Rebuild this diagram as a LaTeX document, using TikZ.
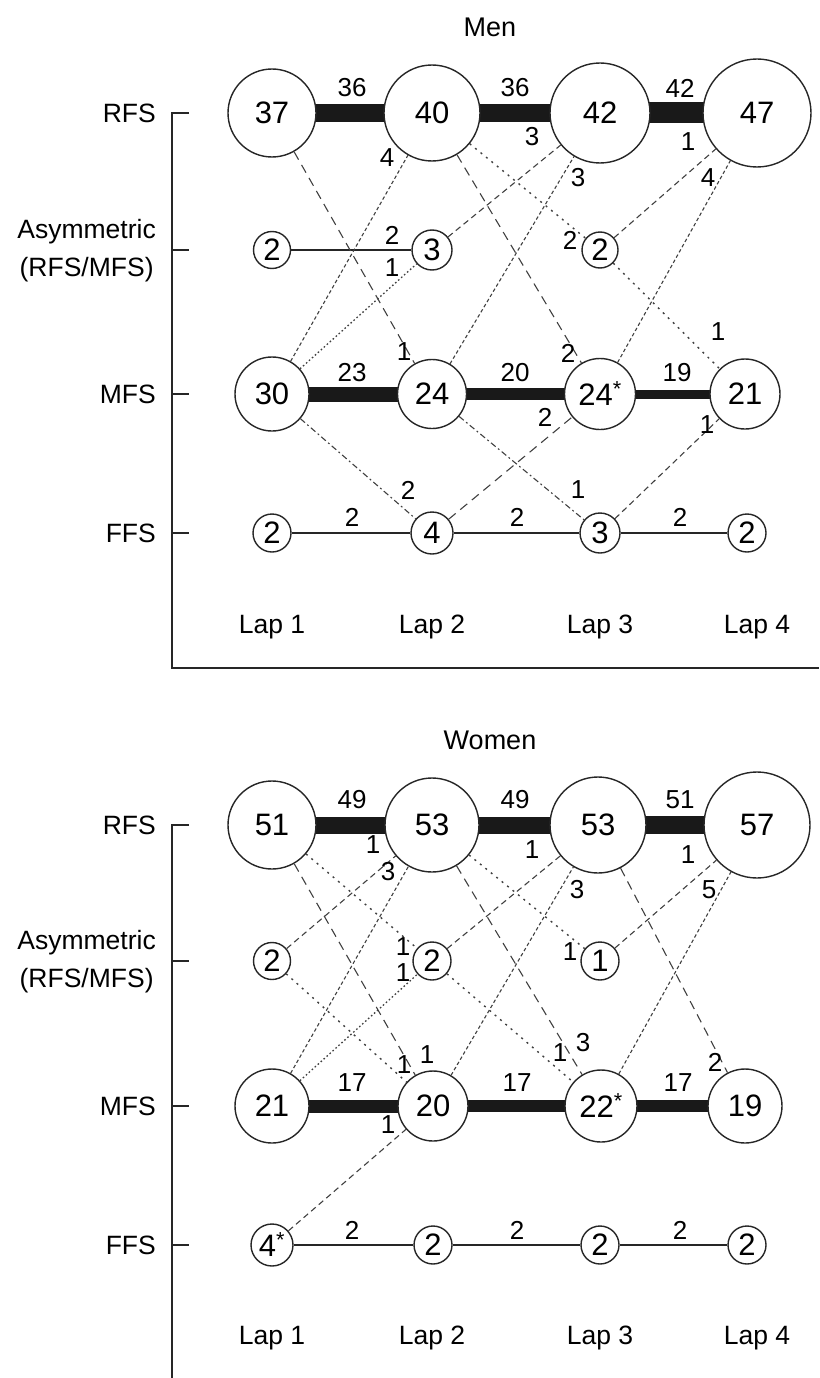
\documentclass[tikz,border=0pt]{standalone}
\usepackage{fontspec}
\setmainfont{Liberation Sans}
\usetikzlibrary{backgrounds}
\newcommand\FigNum{\fontsize{31}{33}\selectfont}
\newcommand\FigLab{\fontsize{26}{28}\selectfont}
\newcommand\FigAx{\fontsize{26.5}{38}\selectfont}
\begin{document}
\begin{tikzpicture}[x=1pt,y=-1pt,
  lapnode/.style={circle, draw=black!85, line width=1.4pt, fill=white, inner sep=0pt, minimum size=#1, font=\FigNum},
  lab/.style={font=\FigLab, inner sep=0pt},
  axlab/.style={font=\FigAx, inner sep=0pt},
  edgeline/.style={draw=black!75, line width=1.1pt},
  edgeLD/.style={edgeline, dash pattern=on 9pt off 6pt},
  edgeMD/.style={edgeline, dash pattern=on 6pt off 4pt},
  edgeFD/.style={edgeline, dash pattern=on 3.5pt off 2.5pt},
  edgeDT/.style={edgeline, line width=1.4pt, dash pattern=on 2pt off 5pt},
  edgeFDT/.style={edgeline, line width=1.3pt, dash pattern=on 1.6pt off 2.4pt},
  edgeDD/.style={edgeline, dash pattern=on 6pt off 3pt on 1.8pt off 3pt},
  thinline/.style={draw=black!85, line width=1.4pt},
  barline/.style={draw=black!90, line width=#1, line cap=butt},
  axisline/.style={draw=black!85, line width=1.4pt}
]
\useasboundingbox (0,0) rectangle (819,1378);

% ================= MEN =================
\node[lab, font=\fontsize{27}{29}\selectfont] (tMen) at (490,27) {Men};

% axis
\draw[axisline] (189,113) -- (172,113) -- (172,668) -- (819,668);
\draw[axisline] (172,250) -- (189,250);
\draw[axisline] (172,394) -- (189,394);
\draw[axisline] (172,533) -- (189,533);
\node[axlab, anchor=east] (mRFS) at (156,113) {RFS};
\node[axlab, anchor=east, align=center] (mAsym) at (156,251) {Asymmetric\\(RFS/MFS)};
\node[axlab, anchor=east] (mMFS) at (156,394) {MFS};
\node[axlab, anchor=east] (mFFS) at (156,533) {FFS};

% nodes
\node[lapnode=88] (m37) at (272,113) {37};
\node[lapnode=96] (m40) at (432,113) {40};
\node[lapnode=100] (m42) at (600,113) {42};
\node[lapnode=108] (m47) at (757,113) {47};
\node[lapnode=37] (mA1) at (272,250) {2};
\node[lapnode=40] (mA2) at (432,250) {3};
\node[lapnode=36] (mA3) at (600,250) {2};
\node[lapnode=74] (m30) at (272,394) {30};
\node[lapnode=69] (m24) at (432,394) {24};
\node[lapnode=71] (m24s) at (600,394) {24\textsuperscript{*}};
\node[lapnode=70] (m21) at (745,394) {21};
\node[lapnode=38] (mF1) at (272,533) {2};
\node[lapnode=42] (mF2) at (432,533) {4};
\node[lapnode=40] (mF3) at (600,533) {3};
\node[lapnode=38] (mF4) at (747,533) {2};

\begin{pgfonlayer}{background}
\draw[barline=18pt] (m37.center) -- (m40.center);
\draw[barline=18pt] (m40.center) -- (m42.center);
\draw[barline=21pt] (m42.center) -- (m47.center);
\draw[barline=15pt] (m30.center) -- (m24.center);
\draw[barline=12pt] (m24.center) -- (m24s.center);
\draw[barline=9pt] (m24s.center) -- (m21.center);
\end{pgfonlayer}

\draw[thinline] (mA1) -- (mA2);
\draw[thinline] (mF1) -- (mF2);
\draw[thinline] (mF2) -- (mF3);
\draw[thinline] (mF3) -- (mF4);

\draw[edgeLD] (m37) -- (m24);
\draw[edgeFD] (m30) -- (m40);
\draw[edgeFDT] (m30) -- (mA2);
\draw[edgeMD] (mA2) -- (m42);
\draw[edgeLD] (m40) -- (m24s);
\draw[edgeDT] (m40) -- (mA3);
\draw[edgeFD] (m24) -- (m42);
\draw[edgeMD] (mA3) -- (m47);
\draw[edgeFD] (m24s) -- (m47);
\draw[edgeDT] (mA3) -- (m21);
\draw[edgeDD] (m30) -- (mF2);
\draw[edgeLD] (mF2) -- (m24s);
\draw[edgeDD] (m24) -- (mF3);
\draw[edgeMD] (mF3) -- (m21);

% labels
\node[lab] (ml1) at (352,88) {36};
\node[lab] (ml2) at (515,88) {36};
\node[lab] (ml3) at (680,88) {42};
\node[lab] (ml4) at (352,373) {23};
\node[lab] (ml5) at (515,373) {20};
\node[lab] (ml6) at (677,373) {19};
\node[lab] (ml7) at (404,352) {1};
\node[lab] (ml8) at (387,158) {4};
\node[lab] (ml9) at (392,268) {1};
\node[lab] (ml10) at (392,235) {2};
\node[lab] (ml11) at (532,137) {3};
\node[lab] (ml12) at (568,353) {2};
\node[lab] (ml13) at (570,240) {2};
\node[lab] (ml14) at (578,178) {3};
\node[lab] (ml15) at (688,142) {1};
\node[lab] (ml16) at (708,178) {4};
\node[lab] (ml17) at (718,332) {1};
\node[lab] (ml18) at (408,490) {2};
\node[lab] (ml19) at (545,417) {2};
\node[lab] (ml20) at (578,490) {1};
\node[lab] (ml21) at (707,425) {1};
\node[lab] (ml22) at (352,517) {2};
\node[lab] (ml23) at (517,517) {2};
\node[lab] (ml24) at (680,517) {2};

\node[axlab] (mLap1) at (272,627) {Lap 1};
\node[axlab] (mLap2) at (432,627) {Lap 2};
\node[axlab] (mLap3) at (600,627) {Lap 3};
\node[axlab] (mLap4) at (757,627) {Lap 4};

% ================= WOMEN =================
\node[lab, font=\fontsize{27}{29}\selectfont] (tWomen) at (490,740) {Women};

\draw[axisline] (189,825) -- (172,825) -- (172,1378);
\draw[axisline] (172,961) -- (189,961);
\draw[axisline] (172,1106) -- (189,1106);
\draw[axisline] (172,1245) -- (189,1245);
\node[axlab, anchor=east] (wRFS) at (156,825) {RFS};
\node[axlab, anchor=east, align=center] (wAsym) at (156,962) {Asymmetric\\(RFS/MFS)};
\node[axlab, anchor=east] (wMFS) at (156,1106) {MFS};
\node[axlab, anchor=east] (wFFS) at (156,1245) {FFS};

\node[lapnode=88] (w51) at (272,825) {51};
\node[lapnode=94] (w53a) at (432,825) {53};
\node[lapnode=96] (w53b) at (598,825) {53};
\node[lapnode=106] (w57) at (757,825) {57};
\node[lapnode=37] (wA1) at (272,961) {2};
\node[lapnode=38] (wA2) at (432,961) {2};
\node[lapnode=38] (wA3) at (600,961) {1};
\node[lapnode=74] (w21) at (272,1106) {21};
\node[lapnode=70] (w20) at (433,1106) {20};
\node[lapnode=72] (w22s) at (601,1106) {22\textsuperscript{*}};
\node[lapnode=74] (w19) at (745,1106) {19};
\node[lapnode=42] (wF1) at (272,1245) {4\textsuperscript{*}};
\node[lapnode=38] (wF2) at (433,1245) {2};
\node[lapnode=38] (wF3) at (600,1245) {2};
\node[lapnode=38] (wF4) at (747,1245) {2};

\begin{pgfonlayer}{background}
\draw[barline=17pt] (w51.center) -- (w53a.center);
\draw[barline=17pt] (w53a.center) -- (w53b.center);
\draw[barline=18pt] (w53b.center) -- (w57.center);
\draw[barline=13pt] (w21.center) -- (w20.center);
\draw[barline=12pt] (w20.center) -- (w22s.center);
\draw[barline=12pt] (w22s.center) -- (w19.center);
\end{pgfonlayer}

\draw[thinline] (wF1) -- (wF2);
\draw[thinline] (wF2) -- (wF3);
\draw[thinline] (wF3) -- (wF4);

\draw[edgeMD] (wA1) -- (w53a);
\draw[edgeFD] (w21) -- (w53a);
\draw[edgeLD] (w51) -- (w20);
\draw[edgeDT] (w51) -- (wA2);
\draw[edgeDT] (wA1) -- (w20);
\draw[edgeFDT] (w21) -- (wA2);
\draw[edgeMD] (wA2) -- (w53b);
\draw[edgeFD] (w20) -- (w53b);
\draw[edgeLD] (w53a) -- (w22s);
\draw[edgeDT] (w53a) -- (wA3);
\draw[edgeDT] (wA2) -- (w22s);
\draw[edgeMD] (wA3) -- (w57);
\draw[edgeFD] (w22s) -- (w57);
\draw[edgeLD] (w53b) -- (w19);
\draw[edgeMD] (wF1) -- (w20);

\node[lab] (wl1) at (352,800) {49};
\node[lab] (wl2) at (515,800) {49};
\node[lab] (wl3) at (680,800) {51};
\node[lab] (wl4) at (352,1083) {17};
\node[lab] (wl5) at (517,1083) {17};
\node[lab] (wl6) at (678,1083) {17};
\node[lab] (wl7) at (373,845) {1};
\node[lab] (wl8) at (388,872) {3};
\node[lab] (wl9) at (427,1055) {1};
\node[lab] (wl10) at (403,947) {1};
\node[lab] (wl11) at (404,1065) {1};
\node[lab] (wl12) at (403,973) {1};
\node[lab] (wl13) at (532,850) {1};
\node[lab] (wl14) at (577,890) {3};
\node[lab] (wl15) at (583,1043) {3};
\node[lab] (wl16) at (570,952) {1};
\node[lab] (wl17) at (560,1053) {1};
\node[lab] (wl18) at (688,855) {1};
\node[lab] (wl19) at (709,890) {5};
\node[lab] (wl20) at (715,1062) {2};
\node[lab] (wl21) at (388,1125) {1};
\node[lab] (wl22) at (352,1230) {2};
\node[lab] (wl23) at (517,1230) {2};
\node[lab] (wl24) at (680,1230) {2};

\node[axlab] (wLap1) at (272,1338) {Lap 1};
\node[axlab] (wLap2) at (432,1338) {Lap 2};
\node[axlab] (wLap3) at (600,1338) {Lap 3};
\node[axlab] (wLap4) at (757,1338) {Lap 4};
\end{tikzpicture}
\end{document}
